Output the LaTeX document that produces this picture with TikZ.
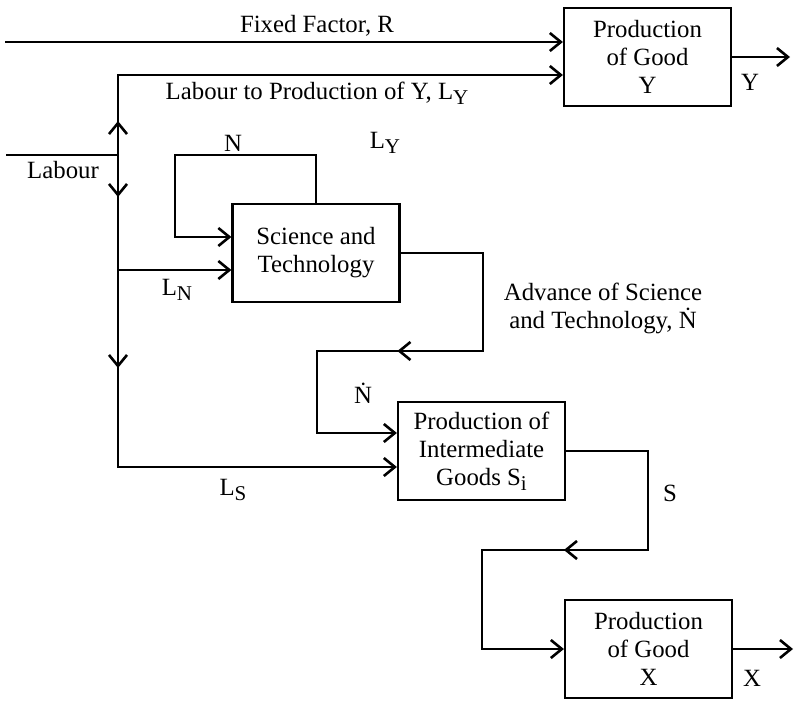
\documentclass[tikz,border=0pt]{standalone}
\usepackage{fontspec}
\setmainfont{Liberation Serif}
\usetikzlibrary{arrows.meta,decorations.markings}
\newcommand\lsub[1]{\raisebox{-0.4ex}{\fontsize{10.5}{10.5}\selectfont #1}}

\begin{document}
\begin{tikzpicture}[x=0.5pt, y=-0.5pt, line width=1.1pt, >={Straight Barb[length=5.5pt,width=9pt,line width=1.3pt]},
        font=\fontsize{12.4}{14}\selectfont,
        main/.style = {draw, minimum width=83.5pt, minimum height=49pt, inner sep=0pt, align=center},
        lbl/.style = {inner sep=0pt, align=center},
        midarrow/.style = {postaction={decorate, decoration={markings, mark=at position #1 with {\arrow{>}}}}}]
        \useasboundingbox (0,0) rectangle (797,701);

        \node[main] (Y) at (647.5,57) {Production\\of Good\\Y};
        \node[main] (ST) at (316,253) {Science and\\Technology};
        \node[main] (I) at (481.5,451) {Production of\\Intermediate\\Goods S\lsub{i}};
        \node[main] (X) at (648.5,649) {Production\\of Good\\X};

        \coordinate (R) at (5,42);
        \coordinate (lab) at (6,155);
        \coordinate (j) at (118,155);
        \coordinate (top) at (118,75);
        \coordinate (ln) at (118,270);
        \coordinate (ls) at (118,467);
        \coordinate (nl) at (175,155);
        \coordinate (a1) at (483,351);
        \coordinate (a2) at (317,433);
        \coordinate (s1) at (648,550);
        \coordinate (s2) at (482,649);
        \coordinate (yo) at (790,57);
        \coordinate (xo) at (793,649);

        \draw[->] (R) -- (R -| Y.west);
        \draw (lab) -- (j);
        \draw[->, midarrow=17pt] (j) -- (top) -- (top -| Y.west);
        \draw[->, midarrow=21pt, midarrow=106.5pt] (j) -- (ls) -- (ls -| I.west);
        \draw[->] (ln) -- (ln -| ST.west);
        \draw[->] (ST.north) |- (nl) |- ([yshift=8pt]ST.west);
        \draw[->, midarrow=133pt] (ST.east) -| (a1) -| (a2) -- (a2 -| I.west);
        \draw[->, midarrow=132.5pt] (I.east) -| (s1) -| (s2) -- (X.west);
        \draw[->] (Y.east) -- (yo);
        \draw[->] (X.east) -- (xo);

        \node[lbl] (lfix) at (317,26) {Fixed Factor, R};
        \node[lbl] (lly) at (317,93) {Labour to Production of Y, L\lsub{Y}};
        \node[lbl] (llab) at (63,170) {Labour};
        \node[lbl] (lN) at (233,143) {N};
        \node[lbl] (lLy) at (385,143) {L\lsub{Y}};
        \node[lbl] (lLn) at (177,290) {L\lsub{N}};
        \node[lbl] (ladv) at (603,308) {Advance of Science\\and Technology, Ṅ};
        \node[lbl] (lNd) at (363,393) {Ṅ};
        \node[lbl] (lLs) at (233,490) {L\lsub{S}};
        \node[lbl] (lS) at (670,493) {S};
        \node[lbl] (lY) at (750,82) {Y};
        \node[lbl] (lX) at (752,678) {X};
    \end{tikzpicture}
\end{document}
